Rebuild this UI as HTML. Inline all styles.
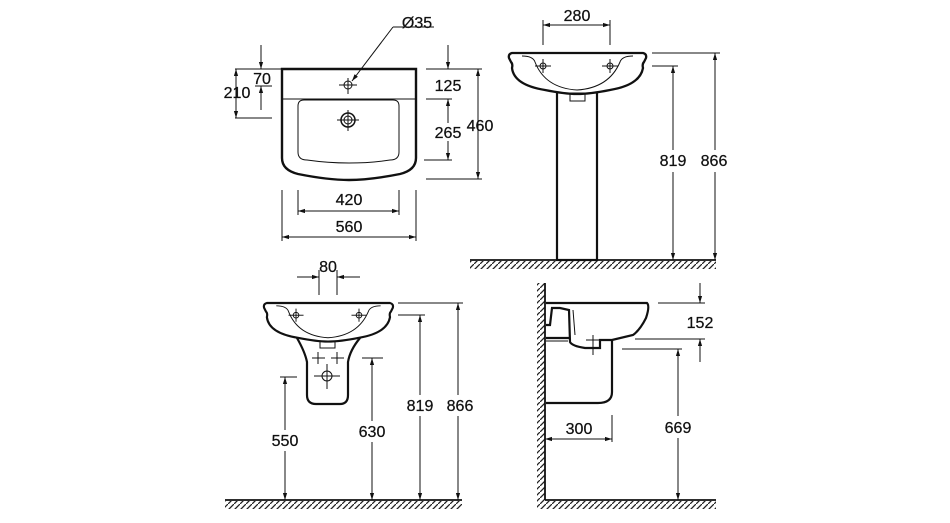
<!DOCTYPE html>
<html><head><meta charset="utf-8"><style>
html,body{margin:0;padding:0;background:#fff}
svg{display:block}
text{font-family:"Liberation Sans",Arial,sans-serif;font-size:16px;fill:#111;text-anchor:middle;stroke:#111;stroke-width:0.25}
</style></head><body>
<svg width="950" height="523" viewBox="0 0 950 523" xmlns="http://www.w3.org/2000/svg">
<defs>
<marker id="a" viewBox="0 0 10 10" refX="10" refY="5" markerWidth="7" markerHeight="7" orient="auto-start-reverse" markerUnits="userSpaceOnUse"><path d="M0,2 L10,5 L0,8 Z" fill="#111"/></marker>
<pattern id="h" width="6" height="6" patternUnits="userSpaceOnUse"><line x1="-1" y1="7" x2="7" y2="-1" stroke="#222" stroke-width="1.3"/></pattern>
<g id="basin">
<path d="M512,53 L643,53 Q647,54 646,58 L644,62 Q642,64 643,68 Q640,85 610,90 Q590,94 577,94 Q565,94 545,90 Q514,85 512,68 Q513,64 511,62 L509,58 Q508,54 512,53 Z" fill="#fff" stroke="#111" stroke-width="2.3"/>
<path d="M522,56 Q533,56 535,62 Q545,88 577,90 Q609,88 620,62 Q622,56 633,56" fill="none" stroke="#111" stroke-width="1"/>
<g stroke="#111" stroke-width="1" fill="none">
<circle cx="543" cy="66" r="3"/><line x1="535" y1="66" x2="551" y2="66"/><line x1="543" y1="59" x2="543" y2="73"/>
<circle cx="610" cy="66" r="3"/><line x1="602" y1="66" x2="618" y2="66"/><line x1="610" y1="59" x2="610" y2="73"/>
</g>
</g>
</defs>
<g stroke="#111" fill="none" stroke-width="1">

<path d="M282,69 L416,69 L416,158 Q416,170 400,174 Q370,180 349,180 Q328,180 298,174 Q282,170 282,158 Z" stroke-width="2.4"/>
<line x1="282" y1="99" x2="416" y2="99"/>
<path d="M304,100 L393,100 Q399,100 399,106 L399,152 Q399,160 390,160 Q370,163 349,163 Q328,163 307,160 Q298,160 298,152 L298,106 Q298,100 304,100 Z"/>
<circle cx="348" cy="85" r="4"/><line x1="339" y1="85" x2="357" y2="85"/><line x1="348" y1="78" x2="348" y2="94"/>
<circle cx="348" cy="120" r="7" stroke-width="1.5"/><circle cx="348" cy="120" r="4"/><line x1="337" y1="120" x2="359" y2="120"/><line x1="348" y1="110" x2="348" y2="131"/>
<line x1="393" y1="27" x2="434" y2="27"/><line x1="393" y1="27" x2="352" y2="81" marker-end="url(#a)"/>
<line x1="235" y1="69" x2="282" y2="69"/><line x1="255" y1="86" x2="272" y2="86"/><line x1="235" y1="118" x2="272" y2="118"/>
<line x1="261" y1="45" x2="261" y2="69" marker-end="url(#a)"/><line x1="261" y1="110" x2="261" y2="86" marker-end="url(#a)"/>
<line x1="236" y1="69" x2="236" y2="118" marker-start="url(#a)" marker-end="url(#a)"/>
<line x1="426" y1="69" x2="482" y2="69"/><line x1="426" y1="99" x2="452" y2="99"/><line x1="424" y1="160" x2="452" y2="160"/><line x1="426" y1="179" x2="482" y2="179"/>
<line x1="448" y1="45" x2="448" y2="69" marker-end="url(#a)"/>
<line x1="448" y1="99" x2="448" y2="123" marker-start="url(#a)"/><line x1="448" y1="141" x2="448" y2="160" marker-end="url(#a)"/>
<line x1="478" y1="69" x2="478" y2="179" marker-start="url(#a)" marker-end="url(#a)"/>
<line x1="282" y1="190" x2="282" y2="241"/><line x1="298" y1="190" x2="298" y2="215"/><line x1="399" y1="190" x2="399" y2="215"/><line x1="416" y1="190" x2="416" y2="241"/>
<line x1="298" y1="211" x2="399" y2="211" marker-start="url(#a)" marker-end="url(#a)"/>
<line x1="282" y1="237" x2="416" y2="237" marker-start="url(#a)" marker-end="url(#a)"/>

<rect x="557" y="92" width="40" height="168" fill="#fff" stroke-width="2.2"/>
<use href="#basin"/>
<rect x="570" y="93" width="15" height="8"/>
<line x1="543" y1="45" x2="543" y2="20"/><line x1="610" y1="45" x2="610" y2="20"/>
<line x1="543" y1="25" x2="610" y2="25" marker-start="url(#a)" marker-end="url(#a)"/>
<line x1="652" y1="53" x2="720" y2="53"/><line x1="652" y1="66" x2="678" y2="66"/>
<line x1="673" y1="66" x2="673" y2="150" marker-start="url(#a)"/><line x1="673" y1="172" x2="673" y2="260" marker-end="url(#a)"/>
<line x1="715" y1="53" x2="715" y2="150" marker-start="url(#a)"/><line x1="715" y1="172" x2="715" y2="260" marker-end="url(#a)"/>
<line x1="470" y1="260" x2="716" y2="260" stroke-width="1.8"/>
<rect x="470" y="261" width="246" height="8" fill="url(#h)" stroke="none"/>

<path d="M297,338 Q305,352 307,362 L307,395 Q307,404 316,404 L340,404 Q348,404 348,395 L348,362 Q350,350 360,338" fill="#fff" stroke-width="2.2"/>
<use href="#basin" transform="translate(265,303) scale(0.94) translate(-510,-53)"/>
<rect x="320" y="341" width="15" height="7"/>
<g>
<line x1="312" y1="358" x2="325" y2="358"/><line x1="318" y1="352" x2="318" y2="364"/>
<line x1="331" y1="358" x2="344" y2="358"/><line x1="337" y1="352" x2="337" y2="364"/>
<circle cx="327" cy="376" r="5"/><line x1="314" y1="376" x2="340" y2="376"/><line x1="327" y1="364" x2="327" y2="389"/>
</g>
<line x1="319" y1="270" x2="319" y2="295"/><line x1="337" y1="270" x2="337" y2="295"/>
<line x1="297" y1="277" x2="319" y2="277" marker-end="url(#a)"/><line x1="360" y1="277" x2="337" y2="277" marker-end="url(#a)"/>
<line x1="280" y1="377" x2="297" y2="377"/><line x1="362" y1="358" x2="383" y2="358"/>
<line x1="398" y1="315" x2="425" y2="315"/><line x1="398" y1="303" x2="463" y2="303"/>
<line x1="285" y1="377" x2="285" y2="430" marker-start="url(#a)"/><line x1="285" y1="451" x2="285" y2="500" marker-end="url(#a)"/>
<line x1="372" y1="358" x2="372" y2="421" marker-start="url(#a)"/><line x1="372" y1="442" x2="372" y2="500" marker-end="url(#a)"/>
<line x1="420" y1="315" x2="420" y2="395" marker-start="url(#a)"/><line x1="420" y1="416" x2="420" y2="500" marker-end="url(#a)"/>
<line x1="458" y1="303" x2="458" y2="395" marker-start="url(#a)"/><line x1="458" y1="416" x2="458" y2="500" marker-end="url(#a)"/>
<line x1="225" y1="500" x2="462" y2="500" stroke-width="1.8"/>
<rect x="225" y="501" width="237" height="8" fill="url(#h)" stroke="none"/>

<rect x="537" y="283" width="8" height="226" fill="url(#h)" stroke="none"/>
<line x1="545" y1="283" x2="545" y2="500" stroke-width="1.8"/>
<line x1="545" y1="500" x2="716" y2="500" stroke-width="1.8"/>
<rect x="545" y="501" width="171" height="8" fill="url(#h)" stroke="none"/>
<path d="M546,338 L612,338 L612,392 Q612,403 598,403 L546,403" stroke-width="2.2"/>
<path d="M546,303 L647,303 Q650,306 646,318 Q640,330 633,335 L612,340 L600,340 L600,348 L585,348 Q572,346 570,342 L569,310 L560,308 L552,308 L550,325 L546,325" fill="#fff" stroke-width="2.2"/>
<line x1="546" y1="341" x2="568" y2="341"/>
<line x1="573" y1="310" x2="575" y2="335"/>
<line x1="586" y1="340" x2="600" y2="340"/><line x1="593" y1="335" x2="593" y2="355"/>
<line x1="658" y1="303" x2="705" y2="303"/><line x1="635" y1="339" x2="705" y2="339"/><line x1="622" y1="349" x2="682" y2="349"/>
<line x1="700" y1="283" x2="700" y2="303" marker-end="url(#a)"/><line x1="700" y1="362" x2="700" y2="339" marker-end="url(#a)"/>
<line x1="678" y1="349" x2="678" y2="416" marker-start="url(#a)"/><line x1="678" y1="438" x2="678" y2="500" marker-end="url(#a)"/>
<line x1="612" y1="415" x2="612" y2="442"/>
<line x1="545" y1="439" x2="612" y2="439" marker-start="url(#a)" marker-end="url(#a)"/>
</g>

<g>
<text x="417" y="28">Ø35</text>
<text x="262" y="84">70</text>
<text x="237" y="98">210</text>
<text x="448" y="91">125</text>
<text x="448" y="138">265</text>
<text x="480" y="131">460</text>
<text x="349" y="205">420</text>
<text x="349" y="232">560</text>
<text x="577" y="21">280</text>
<text x="673" y="166">819</text>
<text x="714" y="166">866</text>
<text x="328" y="272">80</text>
<text x="285" y="446">550</text>
<text x="372" y="437">630</text>
<text x="420" y="411">819</text>
<text x="460" y="411">866</text>
<text x="700" y="328">152</text>
<text x="678" y="433">669</text>
<text x="579" y="434">300</text>
</g>
</svg>
</body></html>
